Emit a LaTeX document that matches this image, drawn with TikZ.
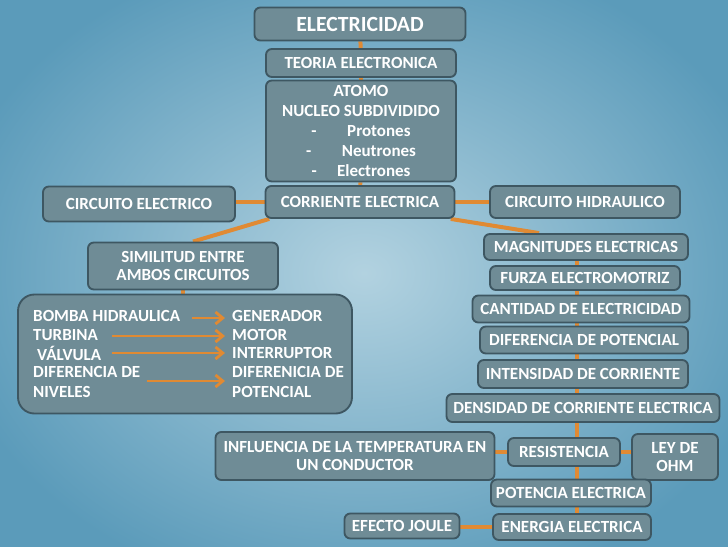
\documentclass[tikz,border=0pt]{standalone}
\usepackage{fontspec}
\setmainfont{Carlito}
\usepackage{tikz}
\usetikzlibrary{arrows.meta,positioning,calc}
\definecolor{bgout}{HTML}{5B9BBA}
\definecolor{bgin}{HTML}{B2D2E0}
\definecolor{bfill}{HTML}{6F8C96}
\definecolor{bline}{HTML}{3E5762}
\definecolor{lorange}{HTML}{E08A33}
\newcommand{\px}{0.03cm}
\pgfdeclarelayer{back}
\pgfdeclarelayer{links}
\pgfsetlayers{back,links,main}
\tikzset{
  % grey-blue rounded box with a dark rim
  blk/.style   = {rectangle, rounded corners=5pt, draw=bline, fill=bfill, line width=1.6pt,
                  align=center, inner sep=1pt, text=white,
                  font=\fontsize{14.5}{16}\selectfont\bfseries},
  sz/.style 2 args = {minimum width=#1*\px, minimum height=#2*\px},
  item/.style  = {anchor=west, inner sep=0pt, text=white,
                  font=\fontsize{14.5}{16}\selectfont\bfseries},
  lane/.style  = {lorange, line width=3.4pt},
  pairarr/.style = {-{Straight Barb[length=2.2mm,width=3.6mm]}, lorange, line width=2.4pt},
}
\begin{document}
\begin{tikzpicture}[x=0.03cm,y=-0.03cm]
\useasboundingbox (0,0) rectangle (728,546);
\begin{pgfonlayer}{back}
\shade[inner color=bgin, outer color=bgout] (-60,-60) rectangle (788,606);
\end{pgfonlayer}
% central column
\node[blk, sz={211}{33}, font=\fontsize{18.5}{20}\selectfont\bfseries] (elec) at (360,24) {ELECTRICIDAD};
\node[blk, sz={190}{28}] (teoria) at (361,63) {TEORIA ELECTRONICA};
\node[blk, sz={190}{101}, font=\fontsize{14.5}{17}\selectfont\bfseries] (atomo) at (361,131)
  {ATOMO\\NUCLEO SUBDIVIDIDO\\-\hspace{1.8em}Protones\\-\hspace{1.8em}Neutrones\\-\hspace{1.2em}Electrones};
\node[blk, sz={189}{32}] (corr) at (360,202) {CORRIENTE ELECTRICA};
\node[blk, sz={192}{35}] (cel) at (139,204) {CIRCUITO ELECTRICO};
\node[blk, sz={190}{32}] (chid) at (585,202) {CIRCUITO HIDRAULICO};
% left branch
\node[blk, sz={190}{47}] (simil) at (183,266) {SIMILITUD ENTRE\\AMBOS CIRCUITOS};
\node[blk, sz={334}{119}, rounded corners=14pt] (pairs) at (185,354) {};
\node[item] (l1) at (33,316) {BOMBA HIDRAULICA};
\node[item] (l2) at (33,335) {TURBINA};
\node[item] (l3) at (37,353) {VÁLVULA};
\node[item] (l4) at (33,372) {DIFERENCIA DE};
\node[item] (l5) at (33,392) {NIVELES};
\node[item] (r1) at (232,316) {GENERADOR};
\node[item] (r2) at (232,335) {MOTOR};
\node[item] (r3) at (232,353) {INTERRUPTOR};
\node[item] (r4) at (232,372) {DIFERENICIA DE};
\node[item] (r5) at (232,392) {POTENCIAL};
\coordinate (a1) at (192,318);
\coordinate (a2) at (112,336);
\coordinate (a3) at (112,353);
\coordinate (a4) at (147,381);
\foreach \a in {a1,a2,a3,a4}
  \draw[pairarr] (\a) -- ($(\a -| r1.west)+(-7,0)$);
% right branch
\node[blk, sz={204}{26}] (magn) at (586,247) {MAGNITUDES ELECTRICAS};
\node[blk, sz={190}{24}] (fuerza) at (585,278) {FURZA ELECTROMOTRIZ};
\node[blk, sz={217}{27}] (cant) at (581,309) {CANTIDAD DE ELECTRICIDAD};
\node[blk, sz={208}{27}] (dif) at (584,340) {DIFERENCIA DE POTENCIAL};
\node[blk, sz={210}{28}] (inten) at (583,374) {INTENSIDAD DE CORRIENTE};
\node[blk, sz={273}{28}] (dens) at (583,408) {DENSIDAD DE CORRIENTE ELECTRICA};
\node[blk, sz={279}{48}] (infl) at (355,456) {INFLUENCIA DE LA TEMPERATURA EN\\UN CONDUCTOR};
\node[blk, sz={112}{28}] (resis) at (564,452) {RESISTENCIA};
\node[blk, sz={86}{46}] (ohm) at (675,457) {LEY DE\\OHM};
\node[blk, sz={160}{27}] (pot) at (571,493) {POTENCIA ELECTRICA};
\node[blk, sz={115}{25}] (joule) at (402,526) {EFECTO JOULE};
\node[blk, sz={158}{26}] (energ) at (572,527) {ENERGIA ELECTRICA};
\coordinate (sp) at (577,0);
% connectors
\begin{pgfonlayer}{links}
\draw[lane] (elec) -- (teoria);
\draw[lane] (teoria) -- (atomo);
\draw[lane] (atomo) -- (corr);
\draw[lane] (corr.west) -- (corr.west -| cel.east);
\draw[lane] (corr.east) -- (corr.east -| chid.west);
\draw[lane] ([xshift=4pt]corr.south west) -- ([xshift=0.3cm]simil.north);
\draw[lane] ([xshift=-4pt]corr.south east) -- ([xshift=1.68cm]magn.north west);
\draw[lane] (simil.south) -- (simil.south |- pairs.north);
\foreach \u/\v in {magn/fuerza,fuerza/cant,cant/dif,dif/inten,inten/dens,dens/resis,resis/pot,pot/energ}
  \draw[lane] (\u.center -| sp) -- (\v.center -| sp);
\draw[lane] (resis.west) -- (resis.west -| infl.east);
\draw[lane] (resis.east) -- (resis.east -| ohm.west);
\draw[lane] (energ.west) -- (energ.west -| joule.east);
\end{pgfonlayer}
\end{tikzpicture}
\end{document}
